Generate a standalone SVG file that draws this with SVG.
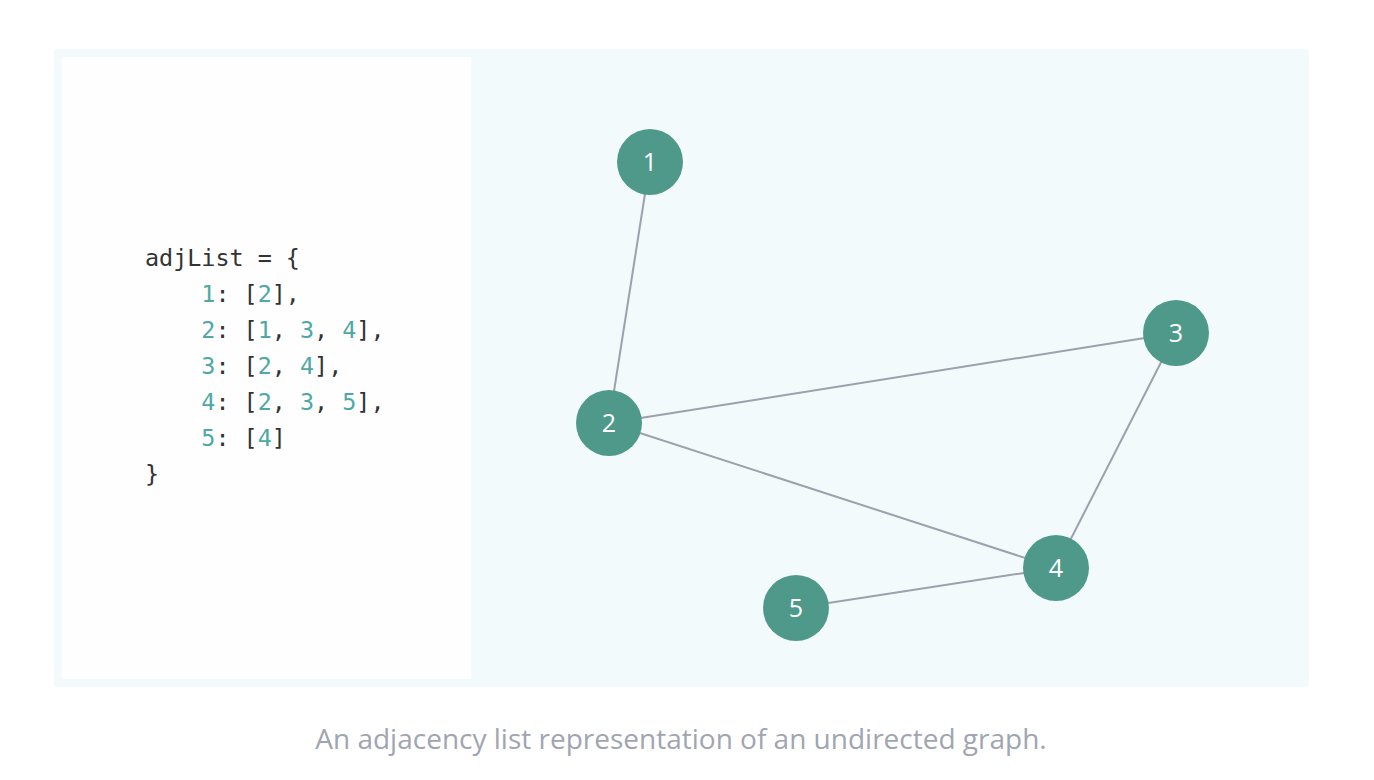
<svg xmlns="http://www.w3.org/2000/svg" width="1374" height="780" viewBox="0 0 1374 780">
<style>
.code{font-family:"DejaVu Sans Mono","Liberation Mono",monospace;font-size:23.4px;fill:#333333}
.n{fill:#4fa8a5}
.node circle{fill:#4f998b}
.node text{font-family:"Open Sans","Noto Sans",sans-serif;font-size:25px;fill:#ffffff;text-anchor:middle}
.edge{stroke:#9ba1ad;stroke-width:2;fill:none}
.cap{font-family:"Open Sans","Noto Sans",sans-serif;font-size:28px;fill:#a0a5b1;text-anchor:middle}
</style>
<rect x="0" y="0" width="1374" height="780" fill="#ffffff"/>
<rect x="54" y="49" width="1255" height="638" rx="4" fill="#f2fafc"/>
<rect x="62" y="57" width="409" height="622" fill="#fefefe"/>
<g id="code">
<text class="code" x="145" y="266" xml:space="preserve">adjList = {</text>
<text class="code" x="145" y="302" xml:space="preserve">    <tspan class="n">1</tspan>: [<tspan class="n">2</tspan>],</text>
<text class="code" x="145" y="338" xml:space="preserve">    <tspan class="n">2</tspan>: [<tspan class="n">1</tspan>, <tspan class="n">3</tspan>, <tspan class="n">4</tspan>],</text>
<text class="code" x="145" y="374" xml:space="preserve">    <tspan class="n">3</tspan>: [<tspan class="n">2</tspan>, <tspan class="n">4</tspan>],</text>
<text class="code" x="145" y="410" xml:space="preserve">    <tspan class="n">4</tspan>: [<tspan class="n">2</tspan>, <tspan class="n">3</tspan>, <tspan class="n">5</tspan>],</text>
<text class="code" x="145" y="446" xml:space="preserve">    <tspan class="n">5</tspan>: [<tspan class="n">4</tspan>]</text>
<text class="code" x="145" y="482">}</text>
</g>
<g id="connectors">
<line class="edge" x1="650" y1="162" x2="609" y2="423"/>
<line class="edge" x1="609" y1="423" x2="1176" y2="333"/>
<line class="edge" x1="609" y1="423" x2="1056" y2="568"/>
<line class="edge" x1="1176" y1="333" x2="1056" y2="568"/>
<line class="edge" x1="1056" y1="568" x2="796" y2="608"/>
</g>
<g id="node1" class="node"><circle cx="650" cy="162" r="33"/><text x="650" y="171">1</text></g>
<g id="node2" class="node"><circle cx="609" cy="423" r="33"/><text x="609" y="432">2</text></g>
<g id="node3" class="node"><circle cx="1176" cy="333" r="33"/><text x="1176" y="342">3</text></g>
<g id="node4" class="node"><circle cx="1056" cy="568" r="33"/><text x="1056" y="577">4</text></g>
<g id="node5" class="node"><circle cx="796" cy="608" r="33"/><text x="796" y="617">5</text></g>
<text class="cap" x="681" y="749">An adjacency list representation of an undirected graph.</text>
</svg>
